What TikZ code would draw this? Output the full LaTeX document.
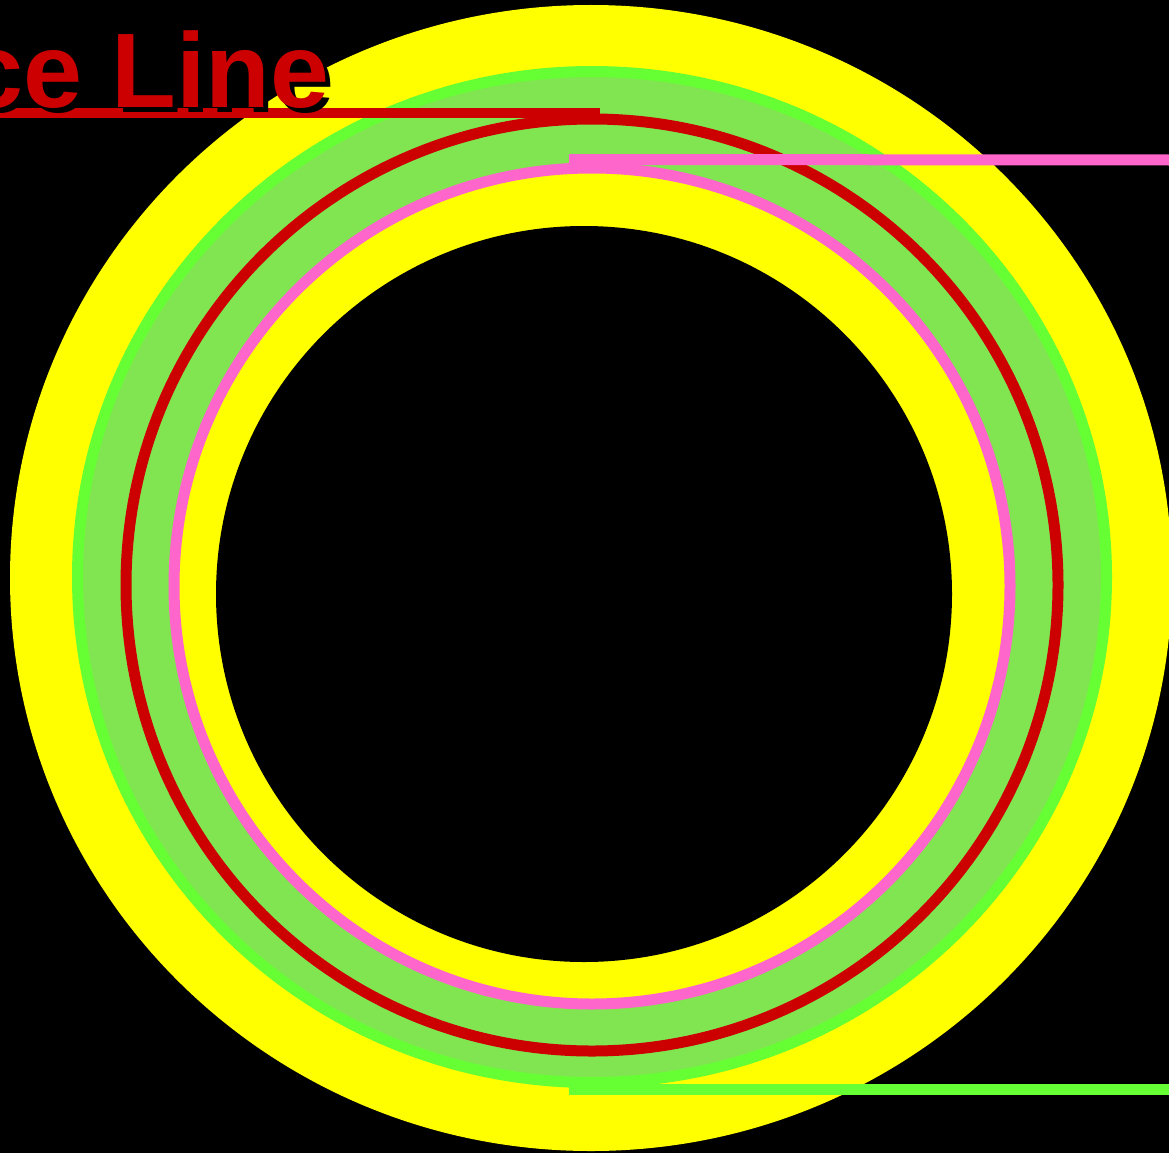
\documentclass[tikz,border=0pt]{standalone}
\usepackage{fontspec}
\setmainfont{Liberation Sans}
\definecolor{cyellow}{HTML}{FFFF00}
\definecolor{cbgreen}{HTML}{66FF33}
\definecolor{clgreen}{HTML}{80E550}
\definecolor{cred}{HTML}{CC0000}
\definecolor{cpink}{HTML}{FF66CC}
\tikzset{
  refline/.style={line width=#1, line cap=butt},
  labeltext/.style={anchor=base west, inner sep=0pt, font=\fontsize{106}{120}\selectfont\bfseries}
}
\begin{document}
\begin{tikzpicture}[x=1pt,y=-1pt]
\useasboundingbox (0,0) rectangle (1169,1153);
\fill[black] (0,0) rectangle (1169,1153);
% outer yellow disk
\fill[cyellow] (591,578) ellipse [x radius=581pt, y radius=573pt];
% green ring
\filldraw[fill=clgreen, draw=cbgreen, line width=11pt] (592,577) ellipse [x radius=514.5pt, y radius=505.5pt];
% pink circle filled with yellow
\filldraw[fill=cyellow, draw=cpink, line width=11pt] (592,586) circle [radius=418pt];
% red circle
\draw[cred, line width=11pt] (592,585) circle [radius=466pt];
% black inner disk
\fill[black] (584,594) circle [radius=368pt];
% leader lines
\coordinate (rA) at (0,113);
\coordinate (rB) at (600,113);
\coordinate (pA) at (569,159.5);
\coordinate (pB) at (1169,160);
\coordinate (gA) at (569,1089.5);
\coordinate (gB) at (1169,1089.5);
\draw[cred, refline=10pt] (rA) -- (rB);
\draw[cpink, refline=11pt] (pA) -- (pB);
\draw[cbgreen, refline=11pt] (gA) -- (gB);
% label with shadow
\node[labeltext, text=black] (lblshadow) at (-31,113) {ce Line};
\node[labeltext, text=cred] (lbl) at (-36,108) {ce Line};
\end{tikzpicture}
\end{document}
